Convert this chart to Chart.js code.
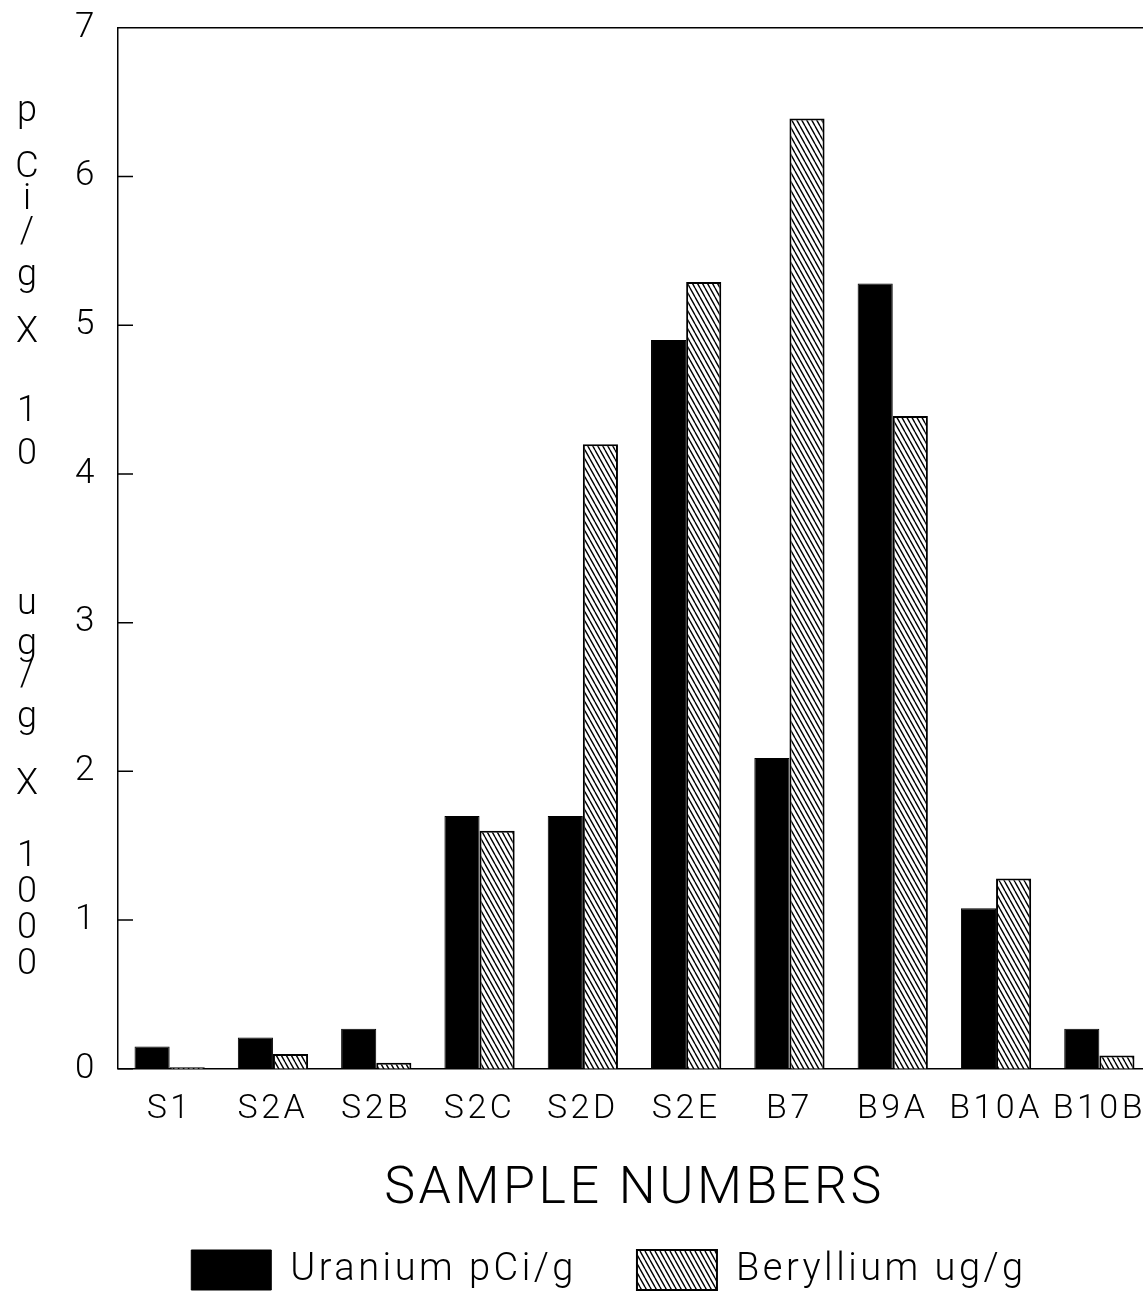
<!DOCTYPE html>
<html>
<head>
<meta charset="utf-8">
<script src="https://cdn.jsdelivr.net/npm/chart.js@4.4.1/dist/chart.umd.min.js"></script>
<style>
    html, body { margin: 0; padding: 0; background: #fff; overflow: hidden; }
    #wrap { position: relative; width: 1160px; height: 1301px; }
</style>
</head>
<body>
<div id="wrap"><canvas id="chart"></canvas></div>
<script>
// --- data ---
const sampleLabels = ['S1', 'S2A', 'S2B', 'S2C', 'S2D', 'S2E', 'B7', 'B9A', 'B10A', 'B10B'];
const uraniumValues = [0.15, 0.21, 0.27, 1.70, 1.70, 4.90, 2.09, 5.28, 1.08, 0.27];
const berylliumValues = [0.01, 0.10, 0.04, 1.60, 4.20, 5.29, 6.39, 4.39, 1.28, 0.09];
const seriesNames = ['Uranium pCi/g', 'Beryllium ug/g'];
const yMin = 0, yMax = 7, yStep = 1;

const FONT = 'Roboto, "Liberation Sans", sans-serif';
const SPACING = '3.5px';

// hatch pattern for the beryllium bars (\\\\ stripes)
function makeHatch() {
    const w = 5, h = 9;
    const c = document.createElement('canvas');
    c.width = w; c.height = h;
    const g = c.getContext('2d');
    g.fillStyle = '#fff';
    g.fillRect(0, 0, w, h);
    g.strokeStyle = '#000';
    g.lineWidth = 1.4;
    g.beginPath();
    for (let k = -1; k <= 1; k++) {
        g.moveTo(k * w, 0);
        g.lineTo(k * w + w, h);
    }
    g.stroke();
    return g.createPattern(c, 'repeat');
}

// stacked letters of the y-axis title (char, y centre)
const yTitleChars = [
    ['p', 112], ['C', 168], ['i', 200], ['/', 233], ['g', 276], ['X', 333], ['1', 412], ['0', 455],
    ['u', 605], ['g', 645], ['/', 676], ['g', 718], ['X', 785], ['1', 857], ['0', 893], ['0', 929], ['0', 965]
];

const framePlugin = {
    id: 'frame',
    beforeLayout(chart) { chart.ctx.letterSpacing = SPACING; },
    beforeDraw(chart) { chart.ctx.letterSpacing = SPACING; },
    afterDatasetsDraw(chart) {
        const { ctx, chartArea, scales } = chart;
        const y = scales.y;
        ctx.save();
        ctx.strokeStyle = '#000';
        ctx.lineWidth = 1.5;
        ctx.beginPath();
        // top frame line
        ctx.moveTo(chartArea.left, chartArea.top);
        ctx.lineTo(chart.width, chartArea.top);
        // inward tick marks
        y.ticks.forEach(t => {
            const py = y.getPixelForValue(t.value);
            ctx.moveTo(chartArea.left, py);
            ctx.lineTo(chartArea.left + 15, py);
        });
        ctx.stroke();

        ctx.fillStyle = '#000';
        ctx.font = '300 36px ' + FONT;
        ctx.textAlign = 'center';
        ctx.textBaseline = 'middle';
        ctx.letterSpacing = '0px';
        yTitleChars.forEach(([ch, py]) => ctx.fillText(ch, 27, py));
        ctx.restore();
    }
};

const hatch = makeHatch();
const padLeft = 67;

new Chart(document.getElementById('chart'), {
    type: 'bar',
    data: {
        labels: sampleLabels,
        datasets: [
            {
                label: seriesNames[0],
                data: uraniumValues,
                backgroundColor: '#000',
                borderColor: '#000',
                borderWidth: 1,
                categoryPercentage: 0.68,
                barPercentage: 1.0
            },
            {
                label: seriesNames[1],
                data: berylliumValues,
                backgroundColor: hatch,
                borderColor: '#000',
                borderWidth: 2,
                categoryPercentage: 0.68,
                barPercentage: 1.0
            }
        ]
    },
    options: {
        responsive: true,
        maintainAspectRatio: false,
        animation: false,
        layout: { padding: { left: padLeft, right: 9, top: 27, bottom: 1 } },
        plugins: {
            tooltip: { enabled: false },
            legend: {
                position: 'bottom',
                labels: {
                    boxWidth: 80,
                    boxHeight: 40,
                    padding: 60,
                    color: '#000',
                    font: { family: FONT, size: 38, weight: '300' }
                }
            }
        },
        scales: {
            x: {
                grid: { display: false },
                border: { display: true, color: '#000', width: 1.5 },
                ticks: {
                    color: '#000',
                    padding: 12,
                    maxRotation: 0,
                    autoSkip: false,
                    font: { family: FONT, size: 34, weight: '300' }
                },
                title: {
                    display: true,
                    text: 'SAMPLE NUMBERS',
                    color: '#000',
                    padding: { top: 17, bottom: -31 },
                    font: { family: FONT, size: 52, weight: '300' }
                }
            },
            y: {
                min: yMin,
                max: yMax,
                afterFit(scale) { scale.width = 118 - padLeft; },
                grid: { display: false },
                border: { display: true, color: '#000', width: 1.5 },
                ticks: {
                    stepSize: yStep,
                    color: '#000',
                    padding: 12,
                    font: { family: FONT, size: 35, weight: '300', lineHeight: 0.9 }
                }
            }
        }
    },
    plugins: [framePlugin]
});
</script>
</body>
</html>
